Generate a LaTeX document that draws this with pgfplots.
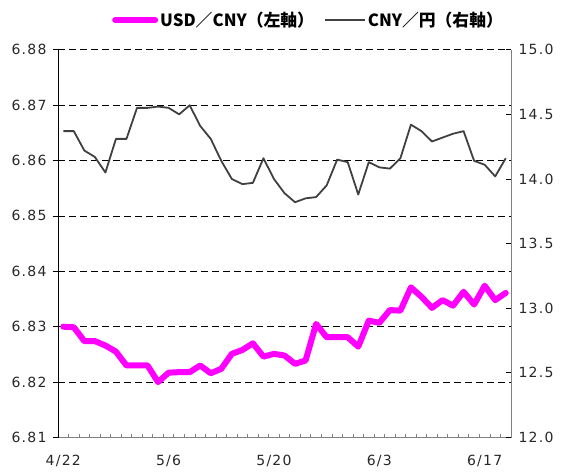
\documentclass[border=0pt]{standalone}
\usepackage{pgfplots}
\pgfplotsset{compat=1.18}
\usepackage{pgfplotstable}
\usepackage{fontspec}
\setmainfont{Noto Sans CJK JP}
\newfontfamily\tickfont{DejaVu Sans}[LetterSpace=9]
\definecolor{mag}{RGB}{255,0,255}
\definecolor{dk}{RGB}{64,64,64}
\definecolor{txt}{RGB}{40,40,40}

\pgfplotstableread{
i usdcny
0 6.8300
1 6.8299
2 6.8274
3 6.8274
4 6.8266
5 6.8255
6 6.8230
7 6.8230
8 6.8230
9 6.8200
10 6.8217
11 6.8218
12 6.8218
13 6.8230
14 6.8216
15 6.8224
16 6.8251
17 6.8258
18 6.8270
19 6.8246
20 6.8251
21 6.8248
22 6.8233
23 6.8239
24 6.8305
25 6.8281
26 6.8281
27 6.8281
28 6.8264
29 6.8311
30 6.8307
31 6.8330
32 6.8329
33 6.8371
34 6.8354
35 6.8334
36 6.8348
37 6.8338
38 6.8363
39 6.8340
40 6.8374
41 6.8348
42 6.8361
}\usdcny

\pgfplotstableread{
i cnyjpy
0 14.37
1 14.37
2 14.22
3 14.17
4 14.05
5 14.31
6 14.31
7 14.55
8 14.55
9 14.56
10 14.55
11 14.50
12 14.57
13 14.41
14 14.31
15 14.14
16 14.00
17 13.96
18 13.97
19 14.16
20 14.00
21 13.89
22 13.82
23 13.85
24 13.86
25 13.95
26 14.15
27 14.13
28 13.88
29 14.13
30 14.09
31 14.08
32 14.16
33 14.42
34 14.37
35 14.29
36 14.32
37 14.35
38 14.37
39 14.14
40 14.11
41 14.02
42 14.16
}\cnyjpy

\begin{document}
\begin{tikzpicture}[x=1pt,y=1pt]
\useasboundingbox (-58,-33.5) rectangle (503,437.5);
\begin{axis}[
  at={(0,0)}, anchor=south west, scale only axis,
  width=453pt, height=387.8pt,
  xmin=-0.5, xmax=42.5, ymin=6.81, ymax=6.88,
  axis y line*=left, axis x line*=bottom,
  x axis line style={gray, line width=1pt},
  y axis line style={black, line width=1pt},
  xtick={0,10,20,30,40},
  xticklabels={4/22,5/6,5/20,6/3,6/17},
  major x tick style={draw=none},
  minor xtick={-0.5,0.5,...,42.5},
  minor tick length=4pt,
  minor x tick style={gray, line width=0.8pt, yshift=4pt},
  tick align=outside,
  major tick length=5pt,
  ytick={6.81,6.82,6.83,6.84,6.85,6.86,6.87,6.88},
  major y tick style={black, line width=0.8pt},
  ymajorgrids,
  major grid style={black, line width=0.8pt, dash pattern=on 7pt off 4pt},
  y tick label style={/pgf/number format/fixed, /pgf/number format/fixed zerofill, /pgf/number format/precision=2, /pgf/number format/assume math mode=true, xshift=-3pt},
  x tick label style={yshift=-9pt},
  tick label style={font=\tickfont\fontsize{14}{16}\selectfont, text=txt},
  clip=false,
]
\addplot[mag, line width=6pt, line join=round, line cap=round] table[x=i, y=usdcny] {\usdcny};
\end{axis}
\begin{axis}[
  at={(0,0)}, anchor=south west, scale only axis,
  width=453pt, height=387.8pt,
  xmin=-0.5, xmax=42.5, ymin=12, ymax=15,
  axis y line*=right, axis x line=none,
  y axis line style={gray, line width=1pt},
  ytick={12,12.5,13,13.5,14,14.5,15},
  tick align=inside,
  major tick length=5pt,
  major y tick style={black, line width=0.8pt},
  y tick label style={/pgf/number format/fixed, /pgf/number format/fixed zerofill, /pgf/number format/precision=1, /pgf/number format/assume math mode=true, xshift=4pt},
  tick label style={font=\tickfont\fontsize{14}{16}\selectfont, text=txt},
  legend style={at={(0.553,1.076)}, anchor=center, draw=none, fill=none,
    legend columns=2, font=\bfseries\fontsize{16.8}{18}\selectfont,
    /tikz/every even column/.append style={column sep=8pt}},
  legend image code/.code={\draw[#1] (0pt,0pt) -- (40pt,0pt);},
]
\addlegendimage{mag, line width=6pt, line cap=round}
\addlegendentry{USD／CNY（左軸）}
\addplot[dk, line width=1.8pt, line join=round] table[x=i, y=cnyjpy] {\cnyjpy};
\addlegendentry{CNY／円（右軸）}
\end{axis}
\end{tikzpicture}
\end{document}
